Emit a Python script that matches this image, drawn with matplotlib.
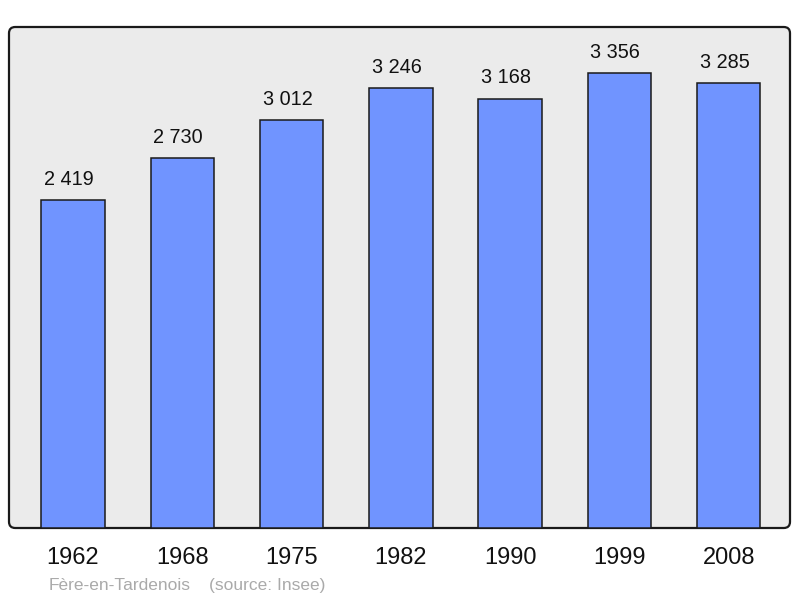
import matplotlib.pyplot as plt
from matplotlib.patches import FancyBboxPatch

years = ["1962", "1968", "1975", "1982", "1990", "1999", "2008"]
population = [2419, 2730, 3012, 3246, 3168, 3356, 3285]
commune = "Fère-en-Tardenois"
source = "(source: Insee)"


def fmt(v: int) -> str:
    """2419 -> '2 419'"""
    return f"{v:,}".replace(",", " ")


def main() -> None:
    plt.rcParams["font.family"] = ["Liberation Sans", "DejaVu Sans"]

    fig = plt.figure(figsize=(8, 5.98), dpi=100)
    ax = fig.add_axes([9 / 800, 70 / 598, 781 / 800, 501 / 598])
    ax.set_facecolor("none")

    # --- background frame with rounded corners --------------------------- #
    frame = FancyBboxPatch((0, 0), 1, 1, boxstyle="round,pad=0,rounding_size=0.008",
                           mutation_aspect=781 / 501, transform=ax.transAxes,
                           facecolor="#ebebeb", edgecolor="#1a1a1a",
                           linewidth=1.6, clip_on=False, zorder=0)
    ax.add_patch(frame)
    for s in ax.spines.values():
        s.set_visible(False)

    # --- bars ------------------------------------------------------------ #
    x = range(len(years))
    bars = ax.bar(x, population, width=0.58, color="#7094ff",
                  edgecolor="#1a1a1a", linewidth=1.1, zorder=2)
    for b, v in zip(bars, population):
        ax.annotate(fmt(v), (b.get_x() + b.get_width() / 2, b.get_height()),
                    xytext=(-3, 11), textcoords="offset points",
                    ha="center", va="baseline", fontsize=14.3, color="#111111")

    ax.set_xlim(-0.585, 6.56)
    ax.set_ylim(0, 3697)
    ax.set_xticks(list(x))
    ax.set_xticklabels(years, fontsize=17, color="#111111")
    ax.tick_params(axis="x", length=0, pad=14)
    ax.set_yticks([])

    # --- footer ---------------------------------------------------------- #
    fig.text(49 / 800, 1 - 590 / 598, commune, fontsize=12.5, color="#aaaaaa")
    fig.text(209 / 800, 1 - 590 / 598, source, fontsize=12.5, color="#aaaaaa")

    fig.savefig("out.png", dpi=100)


if __name__ == "__main__":
    main()
